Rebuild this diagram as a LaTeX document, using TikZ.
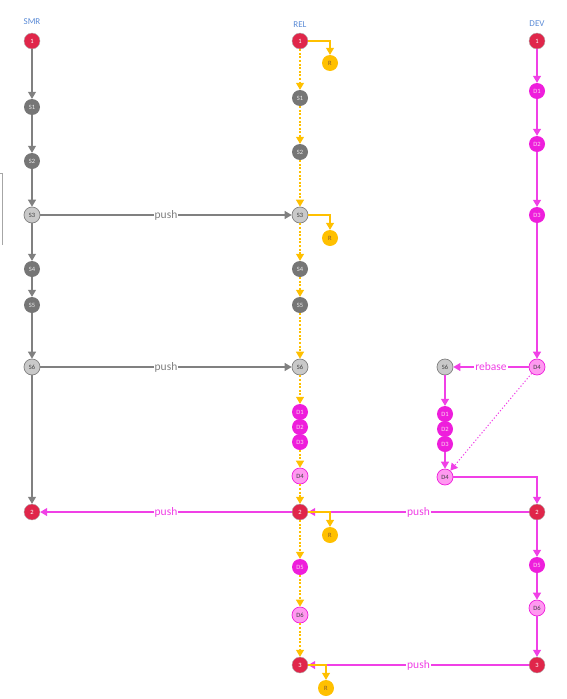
\documentclass[tikz,border=0pt]{standalone}
\usepackage{fontspec}
\setmainfont{Carlito}
\usetikzlibrary{arrows.meta}
\definecolor{cred}{HTML}{E0264A}
\definecolor{cgray}{HTML}{767676}
\definecolor{clgray}{HTML}{C9C9C9}
\definecolor{cline}{HTML}{808080}
\definecolor{corange}{HTML}{FFC000}
\definecolor{cmag}{HTML}{EE1EDC}
\definecolor{clmag}{HTML}{FF99F0}
\definecolor{cmagl}{HTML}{F040E6}
\definecolor{cblue}{HTML}{5B8BD6}
\tikzset{
  commit/.style={circle,minimum size=16pt,inner sep=0pt,font=\fontsize{6.5}{6.5}\selectfont},
  redc/.style={commit,fill=cred,draw=gray!60,line width=0.4pt,text=white},
  grayc/.style={commit,fill=cgray,text=white!85!gray},
  lgrayc/.style={commit,fill=clgray,draw=gray,line width=0.7pt,text=black!75},
  relc/.style={commit,fill=corange,text=brown!70!black},
  magc/.style={commit,fill=cmag,text=white!85!magenta},
  lmagc/.style={commit,fill=clmag,draw=cmag,line width=0.7pt,text=black!75},
  branch/.style={font=\fontsize{9}{9}\selectfont,text=cblue},
  tip/.style={-{Triangle[width=8pt,length=7pt]}},
  gline/.style={tip,draw=cline,line width=1.2pt,color=cline},
  oline/.style={tip,draw=corange,color=corange,line width=1.2pt,dash pattern=on 2pt off 1.6pt},
  osolid/.style={tip,draw=corange,color=corange,line width=1.2pt},
  mline/.style={tip,draw=cmagl,color=cmagl,line width=1.2pt},
  lbl/.style={fill=white,inner sep=1pt,font=\fontsize{11.5}{12}\selectfont},
}
\begin{document}
\begin{tikzpicture}[x=1pt,y=-1pt]
\useasboundingbox (0,0) rectangle (566,699);
% stray bracket
\draw[gray!70,line width=0.6pt] (0,173) -- (2.5,173) -- (2.5,245);
% branch labels
\node[branch] (lsmr) at (32,22) {SMR};
\node[branch] (lrel) at (300,25) {REL};
\node[branch] (ldev) at (537,24) {DEV};
% SMR
\node[redc] (s0) at (32,41) {1};
\node[grayc] (s1) at (32,107) {S1};
\node[grayc] (s2) at (32,161) {S2};
\node[lgrayc] (s3) at (32,215) {S3};
\node[grayc] (s4) at (32,269) {S4};
\node[grayc] (s5) at (32,305) {S5};
\node[lgrayc] (s6) at (32,367) {S6};
\node[redc] (s7) at (32,512) {2};
% REL
\node[redc] (r0) at (300,41) {1};
\node[relc] (rr0) at (330,63) {R};
\node[grayc] (r1) at (300,98) {S1};
\node[grayc] (r2) at (300,152) {S2};
\node[lgrayc] (r3) at (300,215) {S3};
\node[relc] (rr3) at (330,238) {R};
\node[grayc] (r4) at (300,269) {S4};
\node[grayc] (r5) at (300,305) {S5};
\node[lgrayc] (r6) at (300,367) {S6};
\node[magc] (rd1) at (300,412) {D1};
\node[magc] (rd2) at (300,427) {D2};
\node[magc] (rd3) at (300,442) {D3};
\node[lmagc] (rd4) at (300,476) {D4};
\node[redc] (r7) at (300,512) {2};
\node[relc] (rr7) at (330,535) {R};
\node[magc] (rd5) at (300,567) {D5};
\node[lmagc] (rd6) at (300,615) {D6};
\node[redc] (r8) at (300,665) {3};
\node[relc] (rr8) at (326,688) {R};
% DEV
\node[redc] (d0) at (537,41) {1};
\node[magc] (d1) at (537,91) {D1};
\node[magc] (d2) at (537,144) {D2};
\node[magc] (d3) at (537,215) {D3};
\node[lmagc] (d4) at (537,367) {D4};
\node[redc] (d7) at (537,512) {2};
\node[magc] (d5) at (537,565) {D5};
\node[lmagc] (d6) at (537,608) {D6};
\node[redc] (d8) at (537,665) {3};
% rebase column
\node[lgrayc] (b6) at (445,367) {S6};
\node[magc] (b1) at (445,414) {D1};
\node[magc] (b2) at (445,429) {D2};
\node[magc] (b3) at (445,444) {D3};
\node[lmagc] (b4) at (445,477) {D4};
% SMR edges
\draw[gline] (s0) -- (s1);
\draw[gline] (s1) -- (s2);
\draw[gline] (s2) -- (s3);
\draw[gline] (s3) -- (s4);
\draw[gline] (s4) -- (s5);
\draw[gline] (s5) -- (s6);
\draw[gline] (s6) -- (s7);
% REL edges
\draw[oline] (r0) -- (r1);
\draw[oline] (r1) -- (r2);
\draw[oline] (r2) -- (r3);
\draw[oline] (r3) -- (r4);
\draw[oline] (r4) -- (r5);
\draw[oline] (r5) -- (r6);
\draw[oline] (r6) -- (rd1);
\draw[oline] (rd3) -- (rd4);
\draw[oline] (rd4) -- (r7);
\draw[oline] (r7) -- (rd5);
\draw[oline] (rd5) -- (rd6);
\draw[oline] (rd6) -- (r8);
% DEV edges
\draw[mline] (d0) -- (d1);
\draw[mline] (d1) -- (d2);
\draw[mline] (d2) -- (d3);
\draw[mline] (d3) -- (d4);
\draw[mline] (d7) -- (d5);
\draw[mline] (d5) -- (d6);
\draw[mline] (d6) -- (d8);
% rebase
\draw[mline] (d4) -- node[lbl,text=cmagl]{rebase} (b6);
\draw[mline] (b6) -- (b1);
\draw[mline] (b3) -- (b4);
\draw[mline,dotted,line width=1pt] (d4) -- (b4);
\draw[mline] (b4) -| (d7);
% pushes
\draw[gline] (s3) -- node[lbl,text=cline]{push} (r3);
\draw[gline] (s6) -- node[lbl,text=cline]{push} (r6);
\draw[mline] (r7) -- node[lbl,text=cmagl]{push} (s7);
\draw[mline] (d7) -- node[lbl,text=cmagl]{push} (r7);
\draw[mline] (d8) -- node[lbl,text=cmagl]{push} (r8);
% release branches
\draw[osolid] (r0) -| (rr0);
\draw[osolid] (r3) -| (rr3);
\draw[osolid] (r7) -| (rr7);
\draw[osolid] (r8) -| (rr8);
\end{tikzpicture}
\end{document}
